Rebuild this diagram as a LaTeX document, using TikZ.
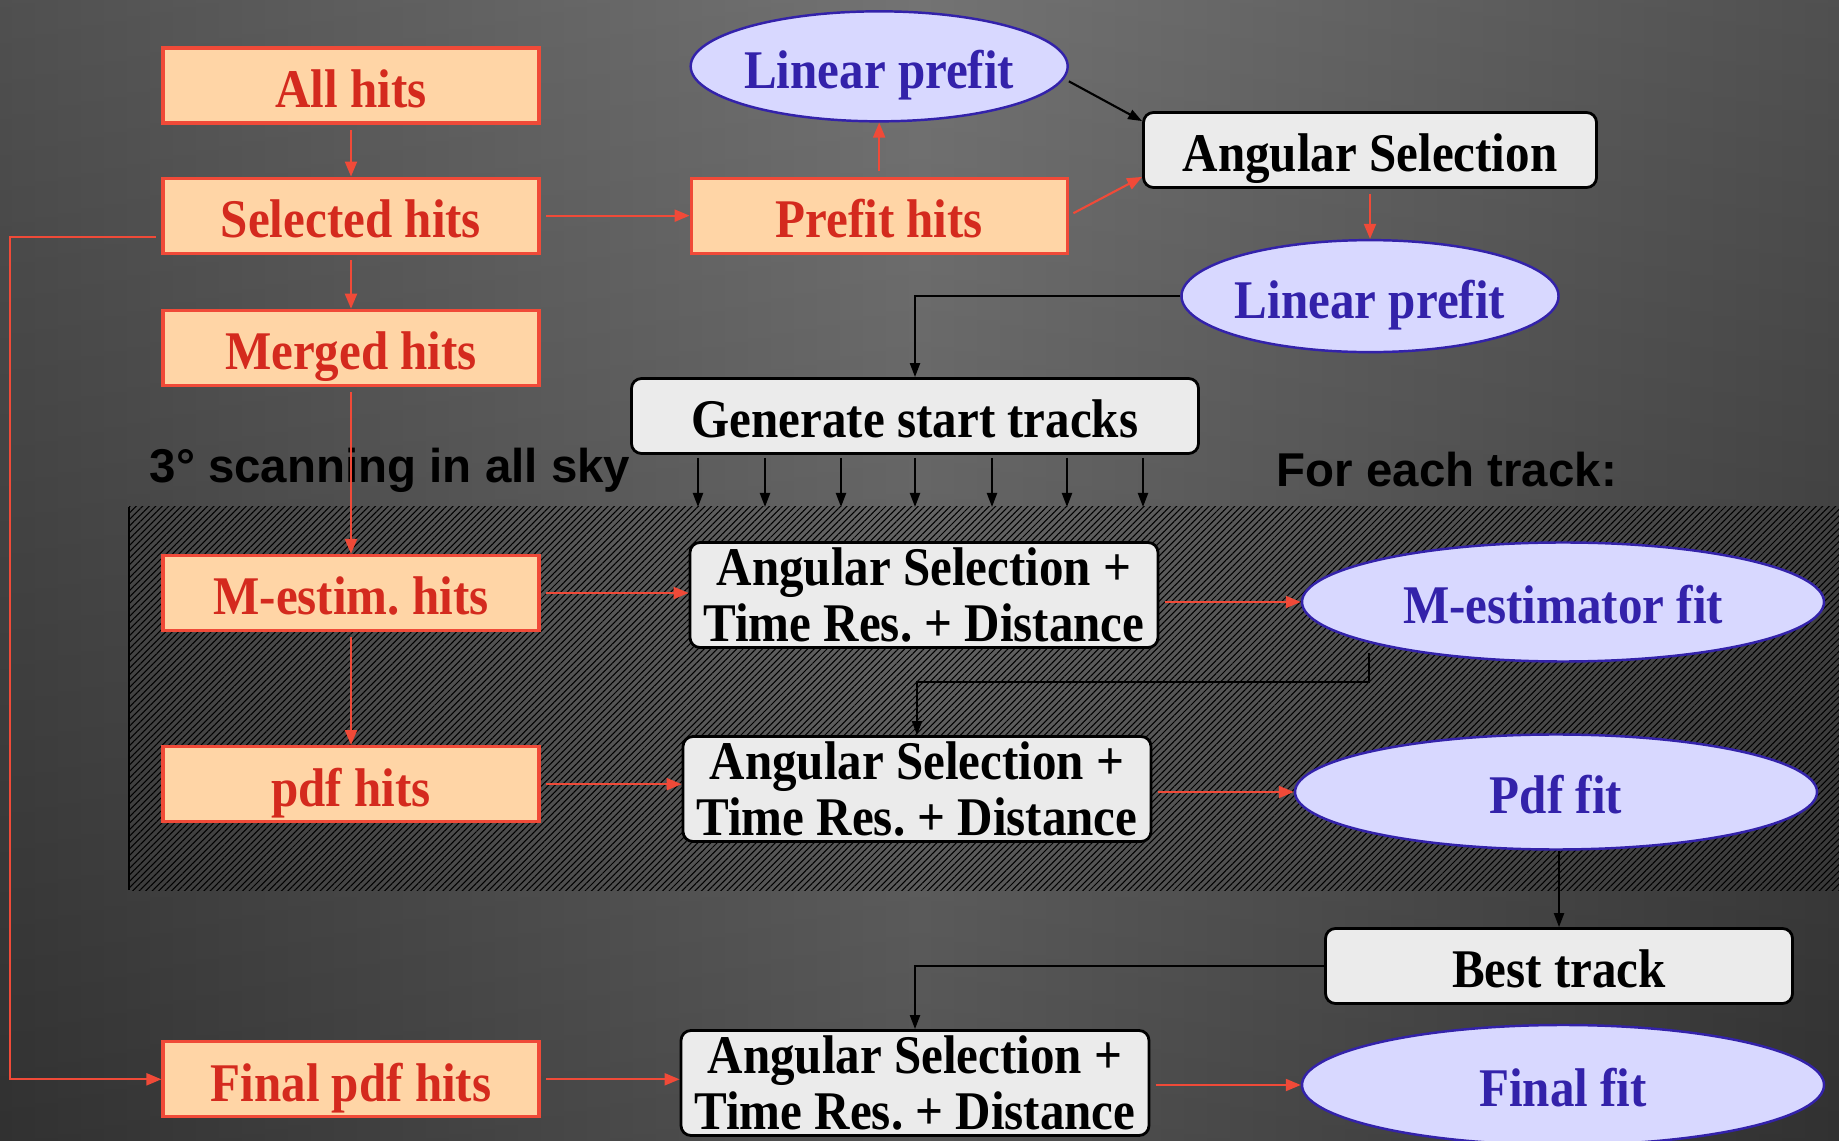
\documentclass[tikz,border=0pt]{standalone}
\usepackage{fontspec}
\usepackage{xcolor}
\usetikzlibrary{positioning,calc,arrows.meta,shapes.geometric,patterns.meta}

\newfontfamily\boxfont{Liberation Serif}[FakeStretch=0.9]
\newfontfamily\labelfont{Liberation Sans}
\frenchspacing

\definecolor{hitfill}{HTML}{FFD5A6}
\definecolor{hitred}{HTML}{F04A38}
\definecolor{hittext}{HTML}{D42A1E}
\definecolor{fitfill}{HTML}{D8D8FF}
\definecolor{fitblue}{HTML}{3322AA}
\definecolor{stepfill}{HTML}{EBEBEB}
\definecolor{bgdark}{HTML}{383838}
\definecolor{bglight}{HTML}{606060}

\tikzset{
  boxtext/.style={font=\fontsize{15.5}{16.2}\selectfont\boxfont\bfseries},
  hitbox/.style={boxtext, draw=hitred, line width=0.9pt, fill=hitfill, text=hittext,
    minimum width=3.76cm, minimum height=0.75cm, inner sep=0pt,
    text height=12.6pt, text depth=0.1pt},
  fitellipse/.style={boxtext, ellipse, draw=fitblue, line width=0.7pt, fill=fitfill,
    text=fitblue, inner xsep=-0.2cm, inner ysep=0pt, text height=12.6pt, text depth=0.1pt},
  stepbox/.style={boxtext, draw=black, line width=0.8pt, rounded corners=0.1cm,
    fill=stepfill, text=black, minimum height=0.75cm, inner sep=0pt},
  onestep/.style={stepbox, text height=12.4pt, text depth=0.1pt},
  twostep/.style={stepbox, align=center, minimum width=4.68cm, minimum height=1.05cm},
  scanlabel/.style={font=\fontsize{13.5}{14}\selectfont\labelfont\bfseries, text=black,
    inner sep=0pt, anchor=west},
  redarrow/.style={draw=hitred, line width=0.6pt, shorten <=1.5pt,
    -{Triangle[length=0.15cm,width=0.12cm]}},
  blackarrow/.style={draw=black, line width=0.6pt, -{Triangle[length=0.14cm,width=0.1cm]}},
}

\begin{document}
\begin{tikzpicture}
    % background and scanning area
    \shade[left color=bgdark, right color=bgdark, middle color=bglight] (0,0) rectangle (18.39,11.40);
    \shade[top color=white, bottom color=black, opacity=0.12] (0,0) rectangle (18.39,11.40);
    \useasboundingbox (0,0) rectangle (18.39,11.40);
    \coordinate (hatchsw) at (1.29,2.50);
    \coordinate (hatchne) at (18.39,6.33);
    \coordinate (rail) at (0.10,0);
    \path[pattern={Lines[angle=45,distance=1.3pt,line width=0.3pt]}, pattern color=black]
        (hatchsw) rectangle (hatchne);
    \draw[black, line width=0.6pt] (hatchsw) -- (hatchsw |- hatchne);

    % hits column
    \node[hitbox] (allhits) at (3.51,10.545) {All hits};
    \node[hitbox, below=0.52cm of allhits] (selhits) {Selected hits};
    \node[hitbox, below=0.54cm of selhits] (mergehits) {Merged hits};
    \node[hitbox, below=1.67cm of mergehits] (mesthits) {M-estim. hits};
    \node[hitbox, below=1.13cm of mesthits] (pdfhits) {pdf hits};
    \node[hitbox, below=2.17cm of pdfhits] (finalhits) {Final pdf hits};

    % prefit
    \node[hitbox, right=1.49cm of selhits] (prefhits) {Prefit hits};
    \node[fitellipse, minimum width=3.77cm, minimum height=1.10cm, above=0.54cm of prefhits] (linpre) {Linear prefit};
    \node[onestep, minimum width=4.53cm] (angsel) at (13.70,9.90) {Angular Selection};
    \node[fitellipse, minimum width=3.77cm, minimum height=1.12cm, below=0.50cm of angsel] (linpreb) {Linear prefit};
    \node[onestep, minimum width=5.67cm] (gentracks) at (9.15,7.24) {Generate start tracks};

    \node[scanlabel] (scantext) at (1.49,6.70) {3° scanning in all sky};
    \node[scanlabel] (tracktext) at (12.76,6.70) {For each track:};

    % fits
    \node[twostep] (selm) at (9.24,5.45) {Angular Selection +\\Time Res. + Distance};
    \node[fitellipse, minimum width=5.22cm, minimum height=1.19cm] (mfit) at (15.63,5.38) {M-estimator fit};
    \node[twostep] (selpdf) at (9.17,3.51) {Angular Selection +\\Time Res. + Distance};
    \node[fitellipse, minimum width=5.22cm, minimum height=1.15cm] (pdffit) at (15.56,3.48) {Pdf fit};
    \node[onestep, minimum width=4.67cm] (besttrack) at (15.59,1.74) {Best track};
    \node[twostep] (selfin) at (9.15,0.57) {Angular Selection +\\Time Res. + Distance};
    \node[fitellipse, minimum width=5.22cm, minimum height=1.20cm] (finalfit) at (15.63,0.55) {Final fit};

    % connectors
    \draw[redarrow] (allhits) -- (selhits);
    \draw[redarrow] (selhits) -- (mergehits);
    \draw[redarrow] (mergehits) -- (mesthits);
    \draw[redarrow] (mesthits) -- (pdfhits);
    \draw[redarrow] (selhits) -- (prefhits);
    \draw[redarrow] (prefhits) -- (linpre);
    \draw[redarrow] (prefhits.east) -- ([yshift=0.12cm]angsel.south west);
    \draw[blackarrow] ([yshift=-0.15cm]linpre.east) -- ([yshift=-0.1cm]angsel.north west);
    \draw[redarrow] (angsel) -- (linpreb);
    \draw[blackarrow] (linpreb.west) -| (gentracks.north);
    \foreach \dx in {-2.17,-1.50,-0.74,0,0.77,1.52,2.28}
        \draw[blackarrow] ($(gentracks.south)+(\dx,-0.03)$) -- ($(gentracks.south |- hatchne)+(\dx,0)$);
    \draw[redarrow] (mesthits.east) -- (mesthits.east -| selm.west);
    \draw[redarrow] (selm.east |- mfit.west) -- (mfit.west);
    \draw[blackarrow] ([xshift=-1.94cm,yshift=0.1cm]mfit.south) |- ($(selpdf.north)+(0,0.53)$) -- (selpdf.north);
    \draw[redarrow] (pdfhits.east) -- (pdfhits.east -| selpdf.west);
    \draw[redarrow] (selpdf.east |- pdffit.west) -- (pdffit.west);
    \draw[blackarrow] (pdffit.south -| besttrack.north) -- (besttrack.north);
    \draw[blackarrow] (besttrack.west) -| (selfin.north);
    \draw[redarrow] (finalhits.east) -- (finalhits.east -| selfin.west);
    \draw[redarrow] (selfin.east |- finalfit.west) -- (finalfit.west);
    \draw[redarrow] ([yshift=-0.21cm]selhits.west) -| (rail |- finalhits.west) -- (finalhits.west);
\end{tikzpicture}
\end{document}
